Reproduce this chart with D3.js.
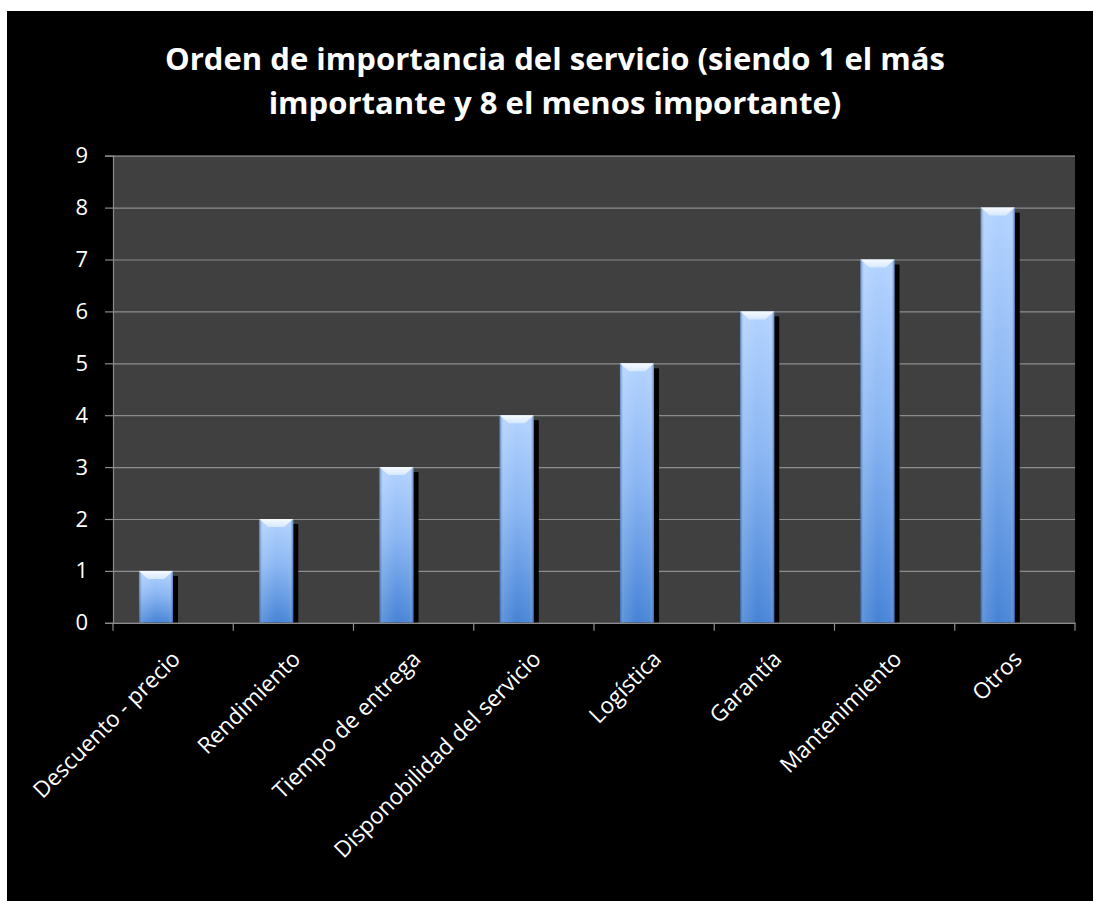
<!DOCTYPE html>
<html>
<head>
<meta charset="utf-8">
<script src="https://cdn.jsdelivr.net/npm/d3@7"></script>
<style>
  html, body { margin: 0; padding: 0; background: #ffffff; }
  svg { display: block; }
</style>
</head>
<body>
<svg id="chart" width="1093" height="901"></svg>
<script>
// Ranking of service aspects (1 = most important, 8 = least important)
const categories = [
  "Descuento - precio",
  "Rendimiento",
  "Tiempo de entrega",
  "Disponobilidad del servicio",
  "Logística",
  "Garantía",
  "Mantenimiento",
  "Otros"
];
const ranking = [1, 2, 3, 4, 5, 6, 7, 8];
const yTicks = [0, 1, 2, 3, 4, 5, 6, 7, 8, 9];
const titleLines = [
  "Orden de importancia del servicio (siendo 1 el más",
  "importante y 8 el menos importante)"
];

const W = 1093, H = 901;
const plot = { left: 113, right: 1075, top: 155.7, bottom: 622.8 };
const FONT = "'Open Sans', 'DejaVu Sans', sans-serif";

const svg = d3.select("#chart");
const defs = svg.append("defs");

// vertical body gradient for each column
const gBody = defs.append("linearGradient")
  .attr("id", "barBody").attr("x1", 0).attr("y1", 0).attr("x2", 0).attr("y2", 1);
gBody.append("stop").attr("offset", "0%").attr("stop-color", "#b3d3ff");
gBody.append("stop").attr("offset", "45%").attr("stop-color", "#8ab6f3");
gBody.append("stop").attr("offset", "100%").attr("stop-color", "#4683d6");

// darker rounded edges left and right
const gEdge = defs.append("linearGradient")
  .attr("id", "barEdge").attr("x1", 0).attr("y1", 0).attr("x2", 1).attr("y2", 0);
gEdge.append("stop").attr("offset", "0%").attr("stop-color", "#1d4f95").attr("stop-opacity", 0.55);
gEdge.append("stop").attr("offset", "12%").attr("stop-color", "#ffffff").attr("stop-opacity", 0.12);
gEdge.append("stop").attr("offset", "50%").attr("stop-color", "#ffffff").attr("stop-opacity", 0);
gEdge.append("stop").attr("offset", "88%").attr("stop-color", "#ffffff").attr("stop-opacity", 0.05);
gEdge.append("stop").attr("offset", "100%").attr("stop-color", "#1d4f95").attr("stop-opacity", 0.6);

// top bevel highlight
const gBevel = defs.append("linearGradient")
  .attr("id", "barBevel").attr("x1", 0).attr("y1", 0).attr("x2", 0).attr("y2", 1);
gBevel.append("stop").attr("offset", "0%").attr("stop-color", "#f7fbff");
gBevel.append("stop").attr("offset", "100%").attr("stop-color", "#d6e8ff");

defs.append("clipPath").attr("id", "plotClip")
  .append("rect")
  .attr("x", plot.left).attr("y", plot.top - 20)
  .attr("width", plot.right - plot.left + 20)
  .attr("height", plot.bottom - plot.top + 20);

// chart frame
svg.append("rect").attr("x", 7).attr("y", 11).attr("width", W - 7).attr("height", H - 11)
  .attr("fill", "#000000");

// scales
const x = d3.scaleBand().domain(categories).range([plot.left, plot.right]).padding(0);
const y = d3.scaleLinear().domain([0, 9]).range([plot.bottom, plot.top]);

// plot area
svg.append("rect")
  .attr("x", plot.left).attr("y", plot.top)
  .attr("width", plot.right - plot.left).attr("height", plot.bottom - plot.top)
  .attr("fill", "#404040");

// horizontal gridlines + y axis
const yAxis = d3.axisLeft(y).tickValues(yTicks).tickSize(8).tickPadding(17).tickFormat(d3.format("d"));
const gy = svg.append("g").attr("transform", `translate(${plot.left},0)`).call(yAxis);
gy.select(".domain").attr("stroke", "#8c8c8c").attr("stroke-width", 1.2);
gy.selectAll(".tick line").attr("stroke", "#8c8c8c").attr("stroke-width", 1.2);
gy.selectAll(".tick text")
  .attr("fill", "#ffffff").style("font-family", FONT).style("font-size", "22px");
gy.selectAll(".tick").append("line")
  .attr("x1", 0).attr("x2", plot.right - plot.left)
  .attr("stroke", "#8c8c8c").attr("stroke-width", 1.2);

// columns
const bw = x.bandwidth();
const barX = d => x(d.c) + bw * 0.216;
const barW = bw * 0.283;
const rows = categories.map((c, i) => ({ c, v: ranking[i] }));

const bars = svg.append("g").attr("clip-path", "url(#plotClip)");
// drop shadows
bars.selectAll("rect.shadow").data(rows).join("rect")
  .attr("class", "shadow")
  .attr("x", d => barX(d) + 5).attr("y", d => y(d.v) + 5)
  .attr("width", barW).attr("height", d => Math.max(0, plot.bottom - y(d.v) - 5))
  .attr("fill", "#000000");

const col = bars.selectAll("g.col").data(rows).join("g").attr("class", "col");
col.append("rect")
  .attr("x", d => barX(d)).attr("y", d => y(d.v))
  .attr("width", barW).attr("height", d => plot.bottom - y(d.v))
  .attr("fill", "url(#barBody)");
col.append("rect")
  .attr("x", d => barX(d)).attr("y", d => y(d.v))
  .attr("width", barW).attr("height", d => plot.bottom - y(d.v))
  .attr("fill", "url(#barEdge)");
col.append("path")
  .attr("d", d => {
    const x0 = barX(d), x1 = x0 + barW, t = y(d.v), depth = 8, inset = 9;
    return `M${x0},${t}L${x1},${t}L${x1 - inset},${t + depth}L${x0 + inset},${t + depth}Z`;
  })
  .attr("fill", "url(#barBevel)");

// category axis
const xAxis = d3.axisBottom(x).tickSize(0).tickFormat("");
const gx = svg.append("g").attr("transform", `translate(0,${plot.bottom})`).call(xAxis);
gx.select(".domain").attr("stroke", "#8c8c8c").attr("stroke-width", 1.2);
gx.selectAll(".tick").remove();
const bounds = categories.map(c => x(c)).concat([plot.right]);
gx.selectAll("line.sep").data(bounds).join("line")
  .attr("class", "sep")
  .attr("x1", d => d).attr("x2", d => d).attr("y1", 0).attr("y2", 8)
  .attr("stroke", "#8c8c8c").attr("stroke-width", 1.2);
gx.selectAll("text.cat").data(categories).join("text")
  .attr("class", "cat")
  .attr("transform", d => `translate(${x(d) + bw / 2 + 3},${32}) rotate(-45)`)
  .attr("text-anchor", "end")
  .attr("dy", "0.35em")
  .attr("fill", "#ffffff")
  .style("font-family", FONT).style("font-size", "22.5px")
  .text(d => d);

// title, sized so its first line spans the same width as the plot heading
const title = svg.append("text")
  .attr("x", 555).attr("y", 70)
  .attr("text-anchor", "middle")
  .attr("fill", "#ffffff")
  .style("font-family", FONT).style("font-weight", "bold").style("font-size", "30px");
title.selectAll("tspan").data(titleLines).join("tspan")
  .attr("x", 555).attr("dy", (d, i) => i === 0 ? 0 : 44)
  .text(d => d);
const firstLen = title.select("tspan").node().getComputedTextLength();
title.style("font-size", (30 * 780 / firstLen).toFixed(2) + "px");
</script>
</body>
</html>
